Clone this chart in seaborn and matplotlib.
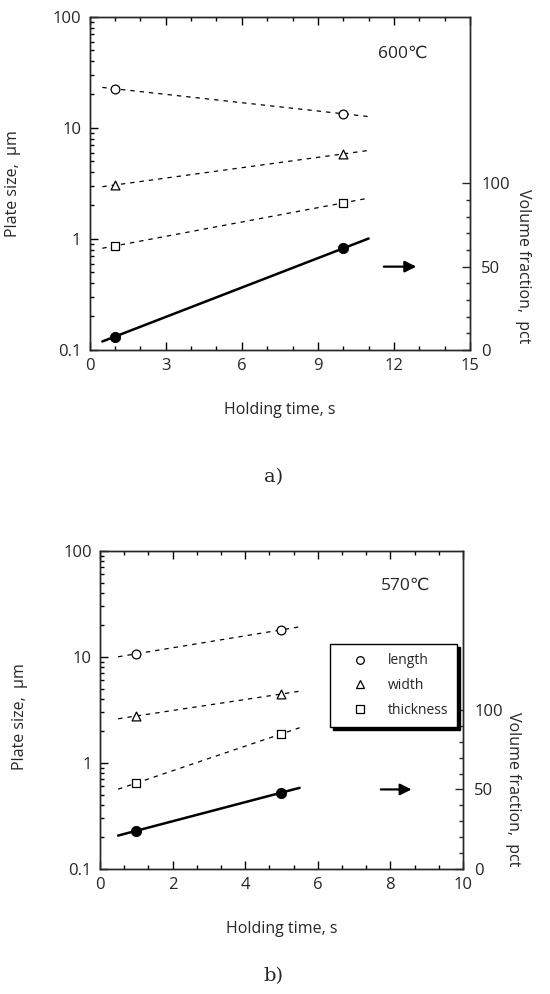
import numpy as np
import pandas as pd
import matplotlib
matplotlib.use("Agg")
import matplotlib.pyplot as plt
from matplotlib.ticker import AutoMinorLocator, MultipleLocator, FuncFormatter, LogLocator
from matplotlib.lines import Line2D
import seaborn as sns

# --- data ---
# panel a) 600 C
time_a = [1, 10]
length_a = [22.5, 13.4]
width_a = [3.06, 5.83]
thick_a = [0.865, 2.11]
volfrac_a = [8, 61]
fit_range_a = [0.5, 11]

# panel b) 570 C
time_b = [1, 5]
length_b = [10.7, 18.0]
width_b = [2.77, 4.47]
thick_b = [0.646, 1.88]
volfrac_b = [24, 48]
fit_range_b = [0.5, 5.5]

series_labels = ["length", "width", "thickness"]
series_markers = ["o", "^", "s"]

sns.set_style("ticks")
plt.rcParams['font.family'] = ['Open Sans', 'DejaVu Sans']
plt.rcParams['axes.linewidth'] = 1.0


def fit_line(t, y, rng, log=True):
    tt = np.array(rng, dtype=float)
    if log:
        c = np.polyfit(t, np.log10(y), 1)
        return tt, 10 ** np.polyval(c, tt)
    c = np.polyfit(t, y, 1)
    return tt, np.polyval(c, tt)


def draw_panel(ax, t, sizes, vf, rng, xmax, xstep, temp, temp_x, legend=False):
    for y, m in zip(sizes, series_markers):
        fx, fy = fit_line(t, y, rng)
        sns.lineplot(x=fx, y=fy, ax=ax, color="black", lw=0.9,
                     linestyle=(0, (3.5, 4)), zorder=2)
        sns.scatterplot(x=t, y=y, ax=ax, marker=m, s=40, facecolor="white",
                        edgecolor="black", linewidth=0.9, zorder=3)
    ax.set_yscale("log")
    ax.set_ylim(0.1, 100)
    ax.set_xlim(0, xmax)
    ax.xaxis.set_major_locator(MultipleLocator(xstep))
    ax.xaxis.set_minor_locator(AutoMinorLocator(3))
    ax.yaxis.set_major_locator(LogLocator(base=10))
    ax.yaxis.set_minor_locator(LogLocator(base=10, subs=np.arange(2, 10)))
    ax.yaxis.set_major_formatter(FuncFormatter(lambda v, p: f"{v:g}"))
    ax.tick_params(which="both", direction="in", top=True, right=False,
                   labelsize=12, color="black", width=1)
    ax.tick_params(which="major", length=6, pad=6)
    ax.tick_params(which="minor", length=3)
    ax.set_xlabel("Holding time, s", fontsize=11.5, labelpad=20)
    ax.set_ylabel("Plate size,  μm", fontsize=11.5)
    ax.text(temp_x, 47, temp, fontsize=12.5, ha="left", va="center")

    ax2 = ax.twinx()
    fx, fy = fit_line(t, vf, rng, log=False)
    sns.lineplot(x=fx, y=fy, ax=ax2, color="black", lw=1.8, zorder=2)
    sns.scatterplot(x=t, y=vf, ax=ax2, marker="o", s=55, color="black",
                    edgecolor="black", zorder=3)
    ax2.set_ylim(0, 200)
    ax2.set_yticks([0, 50, 100])
    ax2.set_yticks([v for v in range(10, 100, 10) if v != 50], minor=True)
    ax2.tick_params(which="both", direction="in", labelsize=12, width=1)
    ax2.tick_params(which="major", length=6, pad=8)
    ax2.tick_params(which="minor", length=3)
    ax2.set_ylabel("Volume fraction,  pct", fontsize=11.5, rotation=-90)
    ax2.yaxis.set_label_coords(1.159, 0.25)
    ax2.annotate("", xy=(0.866, 50), xytext=(0.766, 50),
                 xycoords=("axes fraction", "data"),
                 arrowprops=dict(arrowstyle="-|>", color="black", lw=1.6,
                                 mutation_scale=17))
    if legend:
        handles = [Line2D([], [], marker=m, ls="none", mfc="white", mec="black",
                          ms=5.5, mew=0.9) for m in series_markers]
        leg = ax2.legend(handles, series_labels, loc="upper left",
                         bbox_to_anchor=(0.614, 0.728), fontsize=10,
                         fancybox=False, edgecolor="black", framealpha=1,
                         borderpad=0.65, labelspacing=0.7, handletextpad=0.5,
                         handlelength=3.0,
                         shadow={"color": "black", "alpha": 1, "ox": 2, "oy": -2})
        leg.get_frame().set_linewidth(1.0)
    return ax2


fig = plt.figure(figsize=(5.5, 9.94), dpi=100)
ax_a = fig.add_axes([0.163, 0.648, 0.6916, 0.335])
ax_b = fig.add_axes([0.1818, 0.1258, 0.66, 0.32])

draw_panel(ax_a, time_a, [length_a, width_a, thick_a], volfrac_a, fit_range_a,
           15, 3, "600℃", 11.36)
draw_panel(ax_b, time_b, [length_b, width_b, thick_b], volfrac_b, fit_range_b,
           10, 2, "570℃", 7.74, legend=True)

ax_a.yaxis.set_label_coords(-0.18, 0.5)
ax_b.yaxis.set_label_coords(-0.198, 0.48)

fig.text(0.497, 1 - 477 / 994, "a)", family="DejaVu Serif", fontsize=14,
         ha="center", va="center")
fig.text(0.497, 1 - 976 / 994, "b)", family="DejaVu Serif", fontsize=14,
         ha="center", va="center")

fig.savefig("out.png", dpi=100, facecolor="white")
